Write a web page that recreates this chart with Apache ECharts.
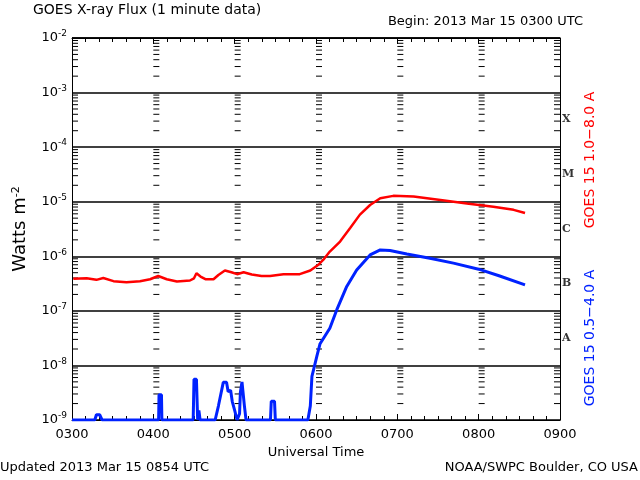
<!DOCTYPE html>
<html><head><meta charset="utf-8">
<script src="https://cdn.jsdelivr.net/npm/echarts@6/dist/echarts.min.js"></script>
<style>html,body{margin:0;padding:0;background:#fff}#c{width:640px;height:480px}</style>
</head><body><div id="c"></div>
<script>
// Times in decimal hours UTC
var xTickLabels = ['0300','0400','0500','0600','0700','0800','0900'];
var redTimes = [3.016,3.18,3.30,3.385,3.51,3.67,3.836,3.96,4.06,4.165,4.29,4.45,4.5,4.53,4.58,4.64,4.74,4.8,4.88,4.96,5.03,5.11,5.21,5.33,5.435,5.6,5.8,5.93,6.03,6.1,6.17,6.296,6.42,6.54,6.665,6.79,6.95,7.2,7.53,7.855,8.18,8.43,8.57];
var redFlux  = [3.86e-7,3.96e-7,3.7e-7,4.0e-7,3.5e-7,3.35e-7,3.5e-7,3.8e-7,4.35e-7,3.8e-7,3.45e-7,3.6e-7,3.95e-7,4.9e-7,4.25e-7,3.8e-7,3.8e-7,4.55e-7,5.5e-7,5.1e-7,4.7e-7,5.1e-7,4.65e-7,4.35e-7,4.35e-7,4.7e-7,4.7e-7,5.5e-7,7.0e-7,9.0e-7,1.22e-6,1.86e-6,3.3e-6,5.8e-6,8.7e-6,1.16e-5,1.28e-5,1.25e-5,1.08e-5,9.3e-6,8.1e-6,7.1e-6,6.2e-6];
var blueTimes = [3.0,3.28,3.30,3.34,3.37,4.065,4.07,4.10,4.105,4.49,4.50,4.53,4.545,4.56,4.575,4.76,4.80,4.86,4.90,4.92,4.95,4.97,5.0,5.03,5.06,5.07,5.09,5.10,5.12,5.14,5.44,5.45,5.49,5.50,5.90,5.93,5.95,5.99,6.01,6.05,6.17,6.256,6.378,6.5,6.665,6.79,6.91,7.117,7.4,7.69,8.0,8.25,8.57];
var blueFlux  = [1e-9,1e-9,1.25e-9,1.25e-9,1e-9,1e-9,2.9e-9,2.9e-9,1e-9,1e-9,5.6e-9,5.6e-9,1e-9,1.5e-9,1e-9,1e-9,1.8e-9,4.9e-9,4.9e-9,3.3e-9,3.5e-9,2.2e-9,1.5e-9,1.0e-9,1.3e-9,3.2e-9,5e-9,5e-9,1.8e-9,1e-9,1e-9,2.2e-9,2.2e-9,1e-9,1e-9,1.8e-9,6.3e-9,1.1e-8,1.46e-8,2.5e-8,4.8e-8,1.05e-7,2.8e-7,5.6e-7,1.06e-6,1.31e-6,1.28e-6,1.1e-6,9.2e-7,7.5e-7,5.8e-7,4.4e-7,3.0e-7];
var classLetters = ['A','B','C','M','X'];
var classFlux = [3.2e-8,3.2e-7,3.2e-6,3.2e-5,3.2e-4];

function zip(a,b){return a.map(function(v,i){return [v,b[i]];});}
// minor tick marks (axis decoration) at each hour column
var tickData = [];
for (var h=3; h<=9; h++) for (var d=-9; d<-2; d++) for (var k=2; k<=9; k++) tickData.push([h, k*Math.pow(10,d)]);

var font = 'DejaVu Sans';
var chart = echarts.init(document.getElementById('c'), null, {renderer:'canvas'});
chart.setOption({
  animation:false,
  backgroundColor:'#fff',
  grid:{left:72,right:80,top:38,bottom:60},
  xAxis:[{
    type:'value',min:3,max:9,interval:1,
    name:'Universal Time',nameLocation:'middle',nameGap:23,
    nameTextStyle:{color:'#000',fontFamily:font,fontSize:13},
    axisLine:{lineStyle:{color:'#000',width:1}},
    axisTick:{inside:true,length:6,lineStyle:{color:'#000'}},
    minorTick:{show:true,splitNumber:6,length:4,lineStyle:{color:'#000'}},
    axisLabel:{color:'#000',fontFamily:font,fontSize:13,margin:8,formatter:function(v){return xTickLabels[Math.round(v)-3];}},
    splitLine:{show:false}
  },{
    type:'value',min:3,max:9,interval:1,position:'top',
    axisLine:{lineStyle:{color:'#000'}},
    axisTick:{inside:true,length:6,lineStyle:{color:'#000'}},
    minorTick:{show:true,splitNumber:6,length:4,lineStyle:{color:'#000'}},
    axisLabel:{show:false},splitLine:{show:false}
  }],
  yAxis:[{
    type:'log',logBase:10,min:1e-9,max:1e-2,interval:1,
    name:'Watts m{s|-2}',nameLocation:'middle',nameGap:42,nameRotate:90,
    nameTextStyle:{color:'#000',fontFamily:font,fontSize:18,rich:{s:{fontSize:11,verticalAlign:'top',fontFamily:font,padding:[0,0,8,0]}}},
    axisLine:{show:true,lineStyle:{color:'#000'}},
    axisTick:{show:false},
    axisLabel:{color:'#000',fontFamily:font,fontSize:13,margin:5,
      formatter:function(v){return '{b|10}{s|'+Math.round(Math.log10(v))+'}';},
      rich:{b:{fontSize:13,fontFamily:font,color:'#000'},s:{fontSize:9,fontFamily:font,color:'#000',padding:[0,0,8,0]}}},
    splitLine:{show:true,lineStyle:{color:'#000',width:1.5}}
  },{
    type:'log',logBase:10,min:1e-9,max:1e-2,interval:1,position:'right',
    axisLine:{show:true,lineStyle:{color:'#000'}},axisTick:{show:false},axisLabel:{show:false},splitLine:{show:false}
  }],
  series:[{
    type:'custom',xAxisIndex:0,yAxisIndex:0,silent:true,z:1,
    data:tickData,
    renderItem:function(params,api){
      var h=api.value(0), p=api.coord([h,api.value(1)]);
      var dir = h>=9 ? -1 : 1;
      return {type:'line',shape:{x1:p[0],y1:p[1],x2:p[0]+dir*6,y2:p[1]},style:{stroke:'#000',lineWidth:1}};
    }
  },{
    type:'line',data:zip(redTimes,redFlux),showSymbol:false,symbol:'none',z:3,
    lineStyle:{color:'#ff0000',width:2.5}
  },{
    type:'line',data:zip(blueTimes,blueFlux),showSymbol:false,symbol:'none',z:3,
    lineStyle:{color:'#0022ff',width:3}
  },{
    type:'scatter',data:zip(classFlux.map(function(){return 9;}),classFlux),symbolSize:0,clip:false,silent:true,
    label:{show:true,position:'right',distance:2,color:'#000',fontFamily:'DejaVu Serif',fontWeight:'bold',fontSize:11,
      formatter:function(p){return classLetters[p.dataIndex];}}
  }],
  graphic:[
    {type:'text',left:33,top:3,style:{text:'GOES X-ray Flux (1 minute data)',fill:'#000',font:'14px DejaVu Sans'}},
    {type:'text',right:57,top:15,style:{text:'Begin: 2013 Mar 15 0300 UTC',fill:'#000',font:'13px DejaVu Sans'}},
    {type:'text',left:0,top:461,style:{text:'Updated 2013 Mar 15 0854 UTC',fill:'#000',font:'13px DejaVu Sans'}},
    {type:'text',right:2,top:461,style:{text:'NOAA/SWPC Boulder, CO USA',fill:'#000',font:'13px DejaVu Sans'}},
    {type:'text',x:590,y:160,rotation:Math.PI/2,style:{text:'GOES 15 1.0\u22128.0 A',fill:'#ff0000',font:'14px DejaVu Sans',align:'center',verticalAlign:'middle'}},
    {type:'text',x:590,y:338,rotation:Math.PI/2,style:{text:'GOES 15 0.5\u22124.0 A',fill:'#0022ff',font:'14px DejaVu Sans',align:'center',verticalAlign:'middle'}}
  ]
});
</script></body></html>
